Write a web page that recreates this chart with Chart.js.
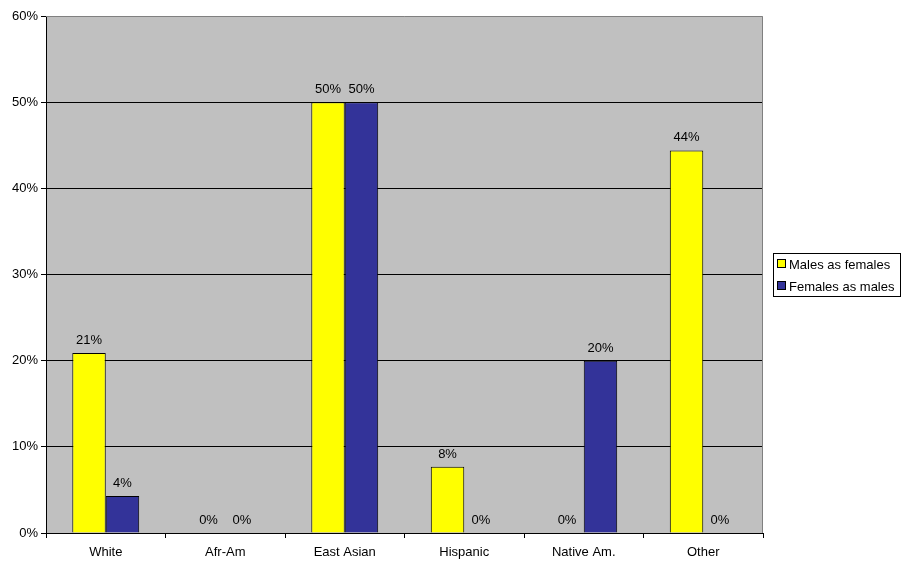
<!DOCTYPE html>
<html>
<head>
<meta charset="utf-8">
<script src="https://cdn.jsdelivr.net/npm/chart.js@4"></script>
<style>
  html, body { margin: 0; padding: 0; background: #fff; }
  #wrap { width: 906px; height: 571px; }
</style>
</head>
<body>
<div id="wrap"><canvas id="c" width="906" height="571"></canvas></div>
<script>
// categories and values (percent)
var categories = ['White', 'Afr-Am', 'East Asian', 'Hispanic', 'Native Am.', 'Other'];
var malesAsFemales = [20.9, 0, 50, 7.7, 0, 44.4];
var femalesAsMales = [4.3, 0, 50, 0, 20, 0];
var seriesNames = ['Males as females', 'Females as males'];
var seriesColors = ['#FFFF00', '#333399'];

var FONT = 'Arial, "Liberation Sans", sans-serif';

// gray plot background + gray top/right border
var plotBg = {
  id: 'plotBg',
  beforeDraw: function(chart) {
    var a = chart.chartArea, ctx = chart.ctx;
    ctx.save();
    ctx.fillStyle = '#C0C0C0';
    ctx.fillRect(a.left, a.top, a.right - a.left, a.bottom - a.top);
    ctx.restore();
  },
  afterDraw: function(chart) {
    var a = chart.chartArea, ctx = chart.ctx;
    ctx.save();
    ctx.strokeStyle = '#808080';
    ctx.lineWidth = 1;
    ctx.beginPath();
    ctx.moveTo(a.left, a.top + 0.5);
    ctx.lineTo(a.right - 0.5, a.top + 0.5);
    ctx.lineTo(a.right - 0.5, a.bottom);
    ctx.stroke();
    ctx.restore();
  }
};

// value labels above every bar, 0% included
var valueLabels = {
  id: 'valueLabels',
  afterDatasetsDraw: function(chart) {
    var ctx = chart.ctx;
    ctx.save();
    ctx.font = '13px ' + FONT;
    ctx.fillStyle = '#000';
    ctx.textAlign = 'center';
    ctx.textBaseline = 'bottom';
    chart.data.datasets.forEach(function(ds, i) {
      chart.getDatasetMeta(i).data.forEach(function(bar, j) {
        ctx.fillText(Math.round(ds.data[j]) + '%', bar.x, bar.y - 6);
      });
    });
    ctx.restore();
  }
};

// boxed legend on the right
var boxLegend = {
  id: 'boxLegend',
  afterDraw: function(chart) {
    var ctx = chart.ctx;
    var x = 773.5, y = 253.5, w = 127, h = 43;
    ctx.save();
    ctx.fillStyle = '#fff';
    ctx.fillRect(x, y, w, h);
    ctx.strokeStyle = '#000';
    ctx.lineWidth = 1;
    ctx.strokeRect(x, y, w, h);
    ctx.font = '13px ' + FONT;
    ctx.textBaseline = 'middle';
    ctx.textAlign = 'left';
    seriesNames.forEach(function(name, i) {
      var cy = 264 + i * 22;
      ctx.fillStyle = seriesColors[i];
      ctx.fillRect(777.5, cy - 4.5, 8, 8);
      ctx.strokeRect(777.5, cy - 4.5, 8, 8);
      ctx.fillStyle = '#000';
      ctx.fillText(name, 789, cy + 1);
    });
    ctx.restore();
  }
};

new Chart(document.getElementById('c'), {
  type: 'bar',
  data: {
    labels: categories,
    datasets: [
      { label: seriesNames[0], data: malesAsFemales, backgroundColor: seriesColors[0],
        borderColor: '#000', borderWidth: 1, barPercentage: 1, categoryPercentage: 0.56 },
      { label: seriesNames[1], data: femalesAsMales, backgroundColor: seriesColors[1],
        borderColor: '#000', borderWidth: 1, barPercentage: 1, categoryPercentage: 0.56 }
    ]
  },
  options: {
    responsive: false,
    animation: false,
    devicePixelRatio: 1,
    layout: { padding: { top: 16, right: 143, left: 0, bottom: 0 } },
    plugins: { legend: { display: false }, tooltip: { enabled: false } },
    scales: {
      x: {
        afterFit: function(s) { s.height = 38; },
        grid: { offset: true, drawOnChartArea: false, color: '#000', tickLength: 5, tickColor: '#000' },
        border: { color: '#000', width: 1 },
        ticks: { color: '#000', font: { family: FONT, size: 13 }, padding: 7, maxRotation: 0 }
      },
      y: {
        min: 0, max: 60,
        afterFit: function(s) { s.width = 46; },
        grid: {
          color: function(c) { return c.tick && c.tick.value === 60 ? 'rgba(0,0,0,0)' : '#000'; },
          tickColor: '#000', tickLength: 5
        },
        border: { color: '#000', width: 1 },
        ticks: { stepSize: 10, color: '#000', font: { family: FONT, size: 13 }, padding: 3,
                 callback: function(v) { return v + '%'; } }
      }
    }
  },
  plugins: [plotBg, valueLabels, boxLegend]
});
</script>
</body>
</html>
